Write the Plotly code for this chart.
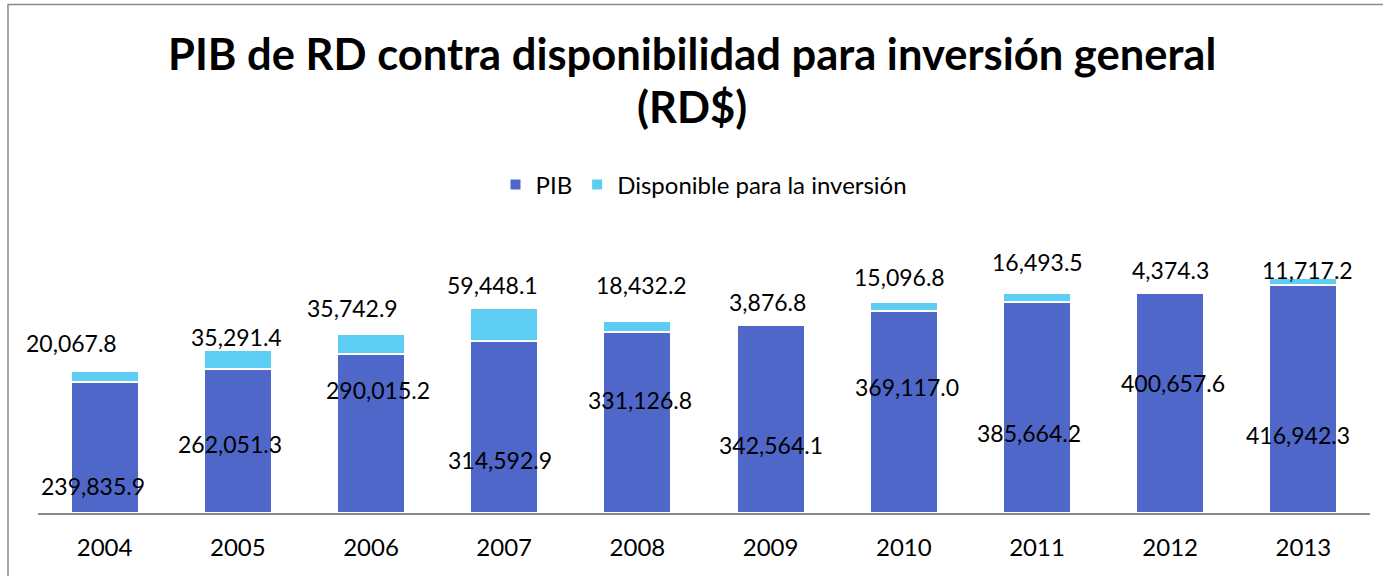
import plotly.graph_objects as go

# ---- data ----
years = ["2004", "2005", "2006", "2007", "2008", "2009", "2010", "2011", "2012", "2013"]
pib = [239835.9, 262051.3, 290015.2, 314592.9, 331126.8, 342564.1, 369117.0, 385664.2, 400657.6, 416942.3]
disponible = [20067.8, 35291.4, 35742.9, 59448.1, 18432.2, 3876.8, 15096.8, 16493.5, 4374.3, 11717.2]

# label placement (pixel offsets of each value label from the bar centre / axis baseline)
pib_lbl_dx = [-12, -8, 7, -4, 3, 0, 3, -8, 3, -5]
pib_lbl_dy = [27, 69, 123, 53, 113, 68, 126, 80, 130, 78]
dis_lbl_dx = [-33, -1, -19, -12, 4, -3, -4, 0, 0, 4]
dis_lbl_dy = [170, 176, 205, 228, 228, 211, 236, 251, 243, 243]

W, H = 1383, 576
ML, MR, MT, MB = 38, 13, 239, 63
PW, PH = W - ML - MR, H - MT - MB

FONT = "Lato"
C_PIB = "#4F67C8"
C_DIS = "#5DCDF4"

fig = go.Figure()
fig.add_trace(go.Bar(x=years, y=pib, name="PIB",
                     marker=dict(color=C_PIB, line=dict(color="white", width=2))))
fig.add_trace(go.Bar(x=years, y=disponible, name="Disponible para la inversión",
                     marker=dict(color=C_DIS, line=dict(color="white", width=2))))

def fmt(v):
    return f"{v:,.1f}"

ann = []
for i, y in enumerate(years):
    ann.append(dict(x=i, y=0, xref="x", yref="y", text=fmt(pib[i]), showarrow=False,
                    xshift=pib_lbl_dx[i], yshift=pib_lbl_dy[i], yanchor="middle",
                    font=dict(family=FONT, size=23, color="black")))
    ann.append(dict(x=i, y=0, xref="x", yref="y", text=fmt(disponible[i]), showarrow=False,
                    xshift=dis_lbl_dx[i], yshift=dis_lbl_dy[i], yanchor="middle",
                    font=dict(family=FONT, size=23, color="black")))

# title as two centred lines
title_lines = ["PIB de RD contra disponibilidad para inversión general", "(RD$)"]
title_y_px = [53, 106]
for t, yp in zip(title_lines, title_y_px):
    ann.append(dict(x=(W / 2 - ML) / PW, y=(H - MB - yp) / PH, xref="paper", yref="paper",
                    text=f"<b>{t}</b>", showarrow=False, xanchor="center", yanchor="middle",
                    font=dict(family=FONT, size=43.5, color="black")))

# chart frame
fx0 = (8 - ML) / PW
fx1 = (W + 10 - ML) / PW
fy0 = -(H + 10 - (H - MB)) / PH
fy1 = (H - MB - 4.5) / PH

fig.update_layout(
    width=W, height=H,
    margin=dict(l=ML, r=MR, t=MT, b=MB, pad=0),
    paper_bgcolor="white", plot_bgcolor="white",
    barmode="stack", bargap=0.49,
    legend=dict(orientation="h", x=0.5, xanchor="center", y=(H - MB - 185) / PH, yanchor="middle",
                font=dict(family=FONT, size=24, color="black"), traceorder="normal"),
    xaxis=dict(type="category", range=[-0.5, len(years) - 0.5], autorange=False,
               showline=True, linecolor="#8c8c8c", linewidth=1.5,
               ticks="outside", ticklen=12, tickcolor="rgba(0,0,0,0)",
               showgrid=False, tickfont=dict(family=FONT, size=24, color="black")),
    yaxis=dict(range=[0, 500000], autorange=False, showticklabels=False, showgrid=False,
               zeroline=False, showline=False, ticks=""),
    annotations=ann,
    shapes=[dict(type="rect", xref="paper", yref="paper", x0=fx0, x1=fx1, y0=fy0, y1=fy1,
                 line=dict(color="#8a8a8a", width=1.5))],
)

fig.write_html("out.html", config={"displayModeBar": False},
               post_script="document.body.style.margin='0';")
